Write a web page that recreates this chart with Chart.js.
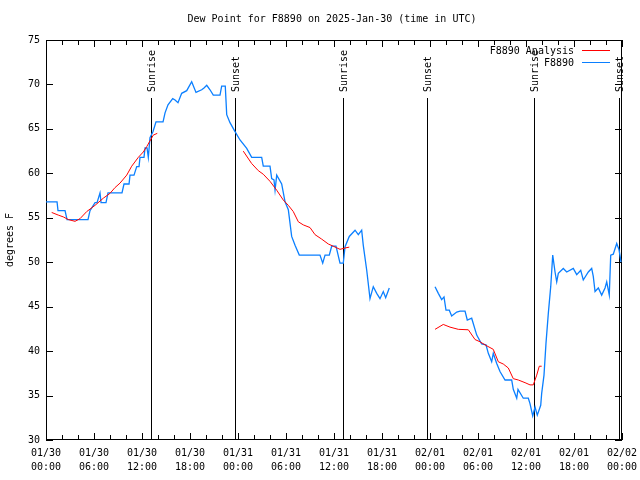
<!DOCTYPE html>
<html>
<head>
<meta charset="utf-8">
<title>Dew Point for F8890</title>
<script src="https://cdn.jsdelivr.net/npm/chart.js@4.4.1/dist/chart.umd.min.js"></script>
<style>
  html, body { margin: 0; padding: 0; background: #fff; }
  #wrap { width: 640px; height: 480px; }
</style>
</head>
<body>
<div id="wrap"><canvas id="dew" width="640" height="480"></canvas></div>
<script>
// hours since 01/30 00:00 UTC, null value = gap in the record
const obsHours = [0, 1.38, 1.5, 2.38, 2.63, 5.25, 5.5, 6.13, 6.38, 6.75, 6.88, 7.5, 7.75, 9.5, 9.75, 10.38,
  10.5, 11.0, 11.34, 11.63, 11.75, 12.25, 12.38, 12.63, 12.79, 13.0, 13.38, 13.75, 14.63, 14.88, 15.25,
  15.84, 16.13, 16.5, 16.96, 17.59, 18.21, 18.75, 19.46, 19.75, 20.09, 20.5, 20.91, 21.75, 21.96, 22.41,
  22.59, 23.0, 23.63, 24.25, 25.09, 25.71, 26.96, 27.16, 28.0, 28.21, 28.5, 28.63, 28.84, 29.46, 29.88,
  30.29, 30.71, 31.13, 31.66, 34.25, 34.59, 34.88, 35.41, 35.71, 36.25, 36.75, 37.16, 37.38, 37.91,
  38.63, 39.04, 39.46, 39.66, 40.09, 40.5, 40.91, 41.34, 41.75, 42.16, 42.46, 42.91,
  45,
  48.63, 49.04, 49.46, 49.75, 50.0, 50.41, 50.71, 51.34, 51.75, 52.38, 52.66, 53.21, 53.84, 54.46, 55.0,
  55.29, 55.71, 55.91, 56.34, 56.75, 57.38, 58.21, 58.41, 58.84, 59.0, 59.66, 60.29, 60.5, 60.84, 61.13,
  61.41, 61.84, 61.96, 62.25, 62.5, 62.79, 63.09, 63.34, 63.63, 63.84, 64.04, 64.66, 65.09, 65.91, 66.34,
  66.84, 67.16, 67.79, 68.21, 68.41, 68.63, 69.04, 69.46, 69.88, 70.09, 70.41, 70.59, 70.91, 71.34,
  71.63, 71.88];
const obsValues = [56.8, 56.8, 55.8, 55.8, 54.8, 54.8, 55.8, 56.7, 56.7, 57.8, 56.7, 56.7, 57.8, 57.8, 58.8, 58.8,
  59.8, 59.8, 60.75, 60.75, 61.8, 61.8, 62.85, 62.85, 61.8, 64.0, 64.7, 65.8, 65.8, 66.8, 67.7,
  68.4, 68.25, 67.95, 69.0, 69.3, 70.3, 69.1, 69.4, 69.6, 69.9, 69.4, 68.8, 68.8, 69.8, 69.8,
  66.6, 65.7, 64.7, 63.75, 62.8, 61.8, 61.8, 60.8, 60.8, 59.4, 59.25, 58.1, 59.8, 58.8, 56.8,
  55.9, 52.9, 51.9, 50.8, 50.8, 49.9, 50.8, 50.8, 51.8, 51.8, 49.9, 49.9, 51.75, 52.9,
  53.6, 53.1, 53.6, 51.9, 49.1, 45.9, 47.25, 46.5, 45.9, 46.7, 46.0, 47.1,
  null,
  47.25, 46.5, 45.8, 46.1, 44.6, 44.6, 43.95, 44.4, 44.5, 44.5, 43.5, 43.7, 41.8, 40.8, 40.7,
  39.75, 38.8, 39.75, 38.6, 37.7, 36.75, 36.75, 35.7, 34.7, 35.7, 34.7, 34.7, 34.1, 32.7, 33.7,
  32.8, 33.9, 35.25, 37.3, 40.9, 44.25, 47.25, 50.8, 48.9, 47.8, 48.75, 49.3, 48.9, 49.3, 48.6,
  49.1, 48.0, 48.9, 49.3, 48.4, 46.7, 47.1, 46.3, 47.1, 47.8, 46.3, 50.8, 50.9, 52.1,
  51.4, 50.0];

const anaHours = [0.71, 1.54, 2.16, 2.79, 3.63, 4.25, 5.09, 6.13, 7.16, 8.0, 8.63, 9.25, 10.09, 10.71, 11.54,
  12.16, 12.59, 13.41, 13.91,
  19,
  24.66, 25.71, 26.54, 27.16, 28.0, 28.84, 29.66, 30.29, 30.91, 31.54, 32.16, 33.0, 33.63, 34.46, 35.29,
  35.91, 36.75, 37.38, 37.91,
  45,
  48.63, 49.66, 50.5, 51.54, 52.79, 53.63, 54.25, 54.88, 55.91, 56.54, 57.16, 57.79, 58.41, 59.04, 59.88,
  60.5, 60.91, 61.34, 61.66, 61.96];
const anaValues = [55.6, 55.3, 55.1, 54.8, 54.6, 54.9, 55.7, 56.4, 57.2, 57.75, 58.4, 58.9, 59.8, 60.8, 61.8,
  62.4, 63.0, 64.3, 64.5,
  null,
  62.5, 61.1, 60.3, 59.9, 59.1, 58.1, 57.0, 56.4, 55.7, 54.55, 54.2, 53.9, 53.1, 52.6, 52.05,
  51.8, 51.45, 51.6, 51.7,
  null,
  42.45, 43.0, 42.7, 42.45, 42.4, 41.3, 41.05, 40.7, 40.2, 38.8, 38.55, 38.1, 36.9, 36.75, 36.45,
  36.2, 36.2, 37.3, 38.3, 38.3];

const sunHours = [13.13, 23.66, 37.16, 47.66, 61.04, 71.66];
const sunLabels = ['Sunrise', 'Sunset', 'Sunrise', 'Sunset', 'Sunrise', 'Sunset'];

const xTickLabels = [
  ['01/30', '00:00'], ['01/30', '06:00'], ['01/30', '12:00'], ['01/30', '18:00'],
  ['01/31', '00:00'], ['01/31', '06:00'], ['01/31', '12:00'], ['01/31', '18:00'],
  ['02/01', '00:00'], ['02/01', '06:00'], ['02/01', '12:00'], ['02/01', '18:00'],
  ['02/02', '00:00']
];

const FONT = '10px "DejaVu Sans Mono", monospace';

function toPoints(hours, values) {
  return hours.map((h, i) => ({ x: h, y: values[i] }));
}

// gnuplot-ish decorations: frame, inward ticks, sun lines, legend, title
const gnuplotLook = {
  id: 'gnuplotLook',
  beforeDatasetsDraw(chart) {
    const { ctx, chartArea: a, scales } = chart;
    const xs = scales.x, ys = scales.y;
    ctx.save();
    ctx.strokeStyle = '#000';
    ctx.lineWidth = 1;

    // sunrise / sunset markers
    ctx.font = FONT;
    ctx.fillStyle = '#000';
    sunHours.forEach((h, i) => {
      const px = Math.round(xs.getPixelForValue(h)) + 0.5;
      ctx.beginPath();
      ctx.moveTo(px, 98);
      ctx.lineTo(px, a.bottom);
      ctx.stroke();
      ctx.save();
      ctx.translate(px + 1, 92);
      ctx.rotate(-Math.PI / 2);
      ctx.textAlign = 'left';
      ctx.textBaseline = 'middle';
      ctx.fillText(sunLabels[i], 0, 0);
      ctx.restore();
    });

    // frame
    ctx.strokeRect(a.left + 0.5, a.top + 0.5, a.right - a.left - 1, a.bottom - a.top - 1);

    // x ticks every 2 h, top and bottom, pointing in
    ctx.beginPath();
    for (let h = 0; h <= 72; h += 2) {
      const px = Math.round(xs.getPixelForValue(h)) + 0.5;
      const len = h % 6 === 0 ? 7 : 5;
      ctx.moveTo(px, a.bottom);
      ctx.lineTo(px, a.bottom - len);
      ctx.moveTo(px, a.top);
      ctx.lineTo(px, a.top + len);
    }
    // y ticks every 5, both sides
    for (let v = 30; v <= 75; v += 5) {
      const py = Math.round(ys.getPixelForValue(v)) + 0.5;
      ctx.moveTo(a.left, py);
      ctx.lineTo(a.left + 7, py);
      ctx.moveTo(a.right, py);
      ctx.lineTo(a.right - 7, py);
    }
    ctx.stroke();
    ctx.restore();
  },
  afterDatasetsDraw(chart) {
    const { ctx } = chart;
    ctx.save();
    ctx.font = FONT;
    ctx.fillStyle = '#000';

    // title
    ctx.textAlign = 'center';
    ctx.textBaseline = 'middle';
    ctx.fillText('Dew Point for F8890 on 2025-Jan-30 (time in UTC)', 332, 19);

    // y axis title
    ctx.save();
    ctx.translate(10, 240);
    ctx.rotate(-Math.PI / 2);
    ctx.fillText('degrees F', 0, 0);
    ctx.restore();

    // legend, top right
    ctx.textAlign = 'right';
    chart.data.datasets.forEach((ds, i) => {
      const y = 50 + i * 12;
      ctx.fillStyle = '#000';
      ctx.fillText(ds.label, 574, y + 1);
      ctx.strokeStyle = ds.borderColor;
      ctx.lineWidth = 1;
      ctx.beginPath();
      ctx.moveTo(582, y + 0.5);
      ctx.lineTo(610, y + 0.5);
      ctx.stroke();
    });
    ctx.restore();
  }
};

new Chart(document.getElementById('dew'), {
  type: 'line',
  data: {
    datasets: [
      {
        label: 'F8890 Analysis',
        data: toPoints(anaHours, anaValues),
        borderColor: '#ff0000',
        borderWidth: 1,
        pointRadius: 0,
        spanGaps: false,
        tension: 0
      },
      {
        label: 'F8890',
        data: toPoints(obsHours, obsValues),
        borderColor: '#0a7fff',
        borderWidth: 1.3,
        pointRadius: 0,
        spanGaps: false,
        tension: 0
      }
    ]
  },
  options: {
    responsive: false,
    animation: false,
    devicePixelRatio: 1,
    layout: { padding: { top: 40, right: 18, left: 0, bottom: 0 } },
    plugins: {
      legend: { display: false },
      title: { display: false },
      tooltip: { enabled: false }
    },
    scales: {
      x: {
        type: 'linear',
        min: 0,
        max: 72,
        grid: { display: false, drawTicks: false },
        border: { display: false },
        afterFit: s => { s.height = 40; s.paddingLeft = 0; s.paddingRight = 0; },
        ticks: {
          stepSize: 6,
          autoSkip: false,
          maxRotation: 0,
          padding: 7,
          color: '#000',
          font: { family: '"DejaVu Sans Mono", monospace', size: 10, lineHeight: 1.35 },
          callback: (v) => xTickLabels[v / 6] || ''
        }
      },
      y: {
        min: 30,
        max: 75,
        grid: { display: false, drawTicks: false },
        border: { display: false },
        afterFit: s => { s.width = 46; s.paddingTop = 0; s.paddingBottom = 0; },
        ticks: {
          stepSize: 5,
          padding: 6,
          color: '#000',
          font: { family: '"DejaVu Sans Mono", monospace', size: 10 }
        }
      }
    }
  },
  plugins: [gnuplotLook]
});
</script>
</body>
</html>
